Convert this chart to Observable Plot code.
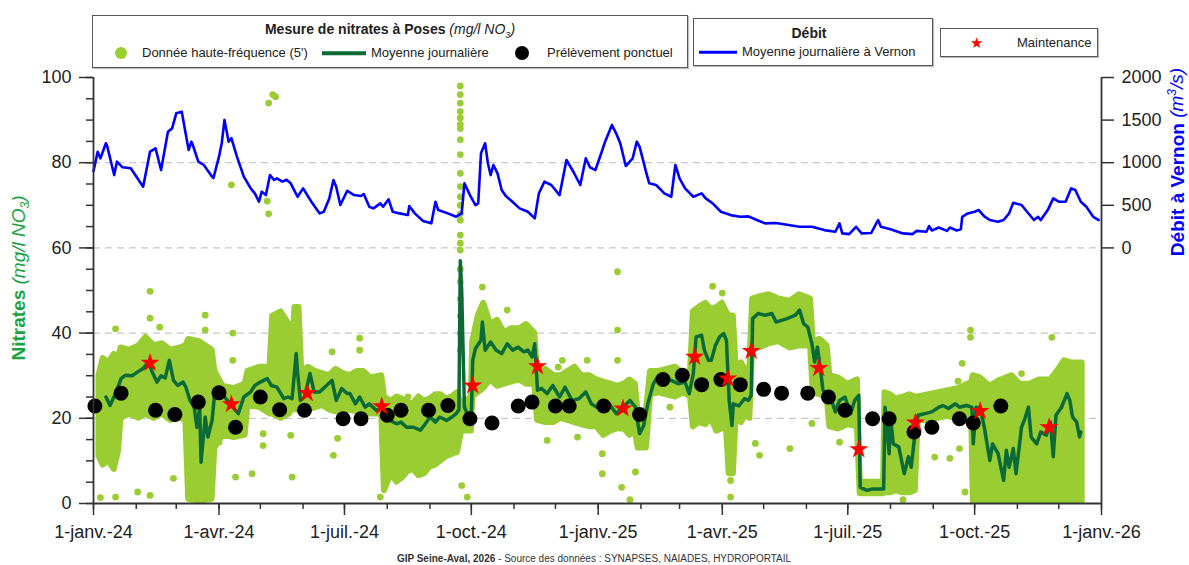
<!DOCTYPE html>
<html lang="fr">
<head>
<meta charset="utf-8">
<script src="https://cdn.jsdelivr.net/npm/d3@7"></script>
<script src="https://cdn.jsdelivr.net/npm/@observablehq/plot@0.6"></script>
<style>
  body { margin: 0; background: #fff; font-family: "Liberation Sans", Arial, sans-serif; color: #222; }
  #wrap { position: relative; width: 1189px; height: 565px; overflow: hidden; }
  #chart { position: absolute; left: 0; top: 0; }
  .box { position: absolute; border: 1px solid #555; background: #fff; box-sizing: border-box; box-shadow: 1px 1px 1px rgba(0,0,0,0.25); }
  .abs { position: absolute; white-space: nowrap; }
  .item { font-size: 13px; line-height: 16px; transform: translateY(-50%); }
  .head { font-size: 14px; line-height: 18px; font-weight: bold; text-align: center; transform: translateY(-50%); }
  .dot { position: absolute; border-radius: 50%; transform: translate(-50%, -50%); }
  .swatch { position: absolute; transform: translateY(-50%); }
  .ytitle { position: absolute; white-space: nowrap; font-size: 19px; transform: translate(-50%, -50%) rotate(-90deg); }
  .footer { position: absolute; left: 594px; top: 558px; transform: translate(-50%, -50%); font-size: 10px; color: #333; white-space: nowrap; }
</style>
</head>
<body>
<div id="wrap">
  <div id="chart"></div>

  <!-- Nitrate legend -->
  <div class="box" style="left:92px; top:15px; width:596px; height:53px;"></div>
  <div class="abs head" style="left:92px; width:596px; top:32px;">Mesure de nitrates à Poses <span style="font-weight:normal; font-style:italic;">(mg/l NO<sub style="font-size:9px;">3</sub>)</span></div>
  <div class="dot" style="left:121px; top:53px; width:12px; height:12px; background:#9acd32;"></div>
  <div class="abs item" style="left:142px; top:53px;">Donnée haute-fréquence (5')</div>
  <div class="swatch" style="left:322px; top:53px; width:44px; height:3.5px; background:#0b6b36;"></div>
  <div class="abs item" style="left:371px; top:53px;">Moyenne journalière</div>
  <div class="dot" style="left:522px; top:53px; width:14px; height:14px; background:#000;"></div>
  <div class="abs item" style="left:547px; top:53px;">Prélèvement ponctuel</div>

  <!-- Flow legend -->
  <div class="box" style="left:693px; top:18px; width:240px; height:48px;"></div>
  <div class="abs head" style="left:693px; width:232px; top:33px;">Débit</div>
  <div class="swatch" style="left:699px; top:52px; width:38px; height:2.5px; background:#0000ff;"></div>
  <div class="abs item" style="left:742px; top:52px;">Moyenne journalière à Vernon</div>

  <!-- Maintenance legend -->
  <div class="box" style="left:940px; top:28px; width:158px; height:29px;"></div>
  <div class="abs item" style="left:970px; top:43px; color:#ff0000; font-size:15px;">★</div>
  <div class="abs item" style="left:1017px; top:43px;">Maintenance</div>

  <!-- Axis titles -->
  <div class="ytitle" style="left:20px; top:278px; color:#19a340;"><b>Nitrates</b> <i>(mg/l NO<sub style="font-size:12px;">3</sub>)</i></div>
  <div class="ytitle" style="left:1177px; top:162px; color:#0000ff;"><b>Débit à Vernon</b> <i>(m<sup style="font-size:12px;">3</sup>/s)</i></div>

  <div class="footer"><b>GIP Seine-Aval, 2026</b> - Source des données : SYNAPSES, NAIADES, HYDROPORTAIL</div>
</div>

<script>
// Daily mean flow of the Seine at Vernon (m3/s)
const flowDates = [
  "2024-01-01","2024-01-04","2024-01-06","2024-01-10","2024-01-11","2024-01-16","2024-01-18","2024-01-22","2024-01-28",
  "2024-02-06","2024-02-11","2024-02-15","2024-02-19","2024-02-24","2024-02-27","2024-03-01","2024-03-05","2024-03-10",
  "2024-03-12","2024-03-13","2024-03-17","2024-03-21","2024-03-27","2024-03-28","2024-04-01","2024-04-03","2024-04-05",
  "2024-04-08","2024-04-10","2024-04-14","2024-04-19","2024-04-24","2024-04-27","2024-04-30","2024-05-02","2024-05-05",
  "2024-05-08","2024-05-11","2024-05-13","2024-05-17","2024-05-20","2024-05-23","2024-05-28","2024-06-01","2024-06-07",
  "2024-06-13","2024-06-16","2024-06-20","2024-06-23","2024-06-25","2024-06-28","2024-07-03","2024-07-08","2024-07-13",
  "2024-07-15","2024-07-19","2024-07-22","2024-07-27","2024-07-29","2024-08-02","2024-08-05","2024-08-10","2024-08-16",
  "2024-08-17","2024-08-21","2024-08-27","2024-09-02","2024-09-05","2024-09-07","2024-09-14","2024-09-20","2024-09-24",
  "2024-09-26","2024-09-30","2024-10-04","2024-10-06","2024-10-08","2024-10-11","2024-10-13","2024-10-15","2024-10-17",
  "2024-10-20","2024-10-23","2024-10-26","2024-10-30","2024-11-05","2024-11-11","2024-11-16","2024-11-19","2024-11-23",
  "2024-11-28","2024-12-04","2024-12-09","2024-12-14","2024-12-19","2024-12-23","2024-12-26","2024-12-30","2025-01-04",
  "2025-01-06","2025-01-11","2025-01-14","2025-01-17","2025-01-21","2025-01-26","2025-01-29","2025-01-31","2025-02-05",
  "2025-02-07","2025-02-12","2025-02-18","2025-02-23","2025-02-26","2025-03-01","2025-03-05","2025-03-11","2025-03-17",
  "2025-03-20","2025-03-25","2025-03-31","2025-04-07","2025-04-14","2025-04-20","2025-04-26","2025-05-02","2025-05-10",
  "2025-05-19","2025-05-27","2025-06-05","2025-06-14","2025-06-22","2025-06-25","2025-06-27","2025-07-02","2025-07-07",
  "2025-07-11","2025-07-18","2025-07-21","2025-07-23","2025-07-25","2025-08-01","2025-08-10","2025-08-17","2025-08-20",
  "2025-08-27","2025-08-29","2025-08-31","2025-09-05","2025-09-11","2025-09-13","2025-09-18","2025-09-21","2025-09-22",
  "2025-09-26","2025-10-01","2025-10-04","2025-10-08","2025-10-12","2025-10-18","2025-10-22","2025-10-26","2025-10-29",
  "2025-11-04","2025-11-08","2025-11-13","2025-11-16","2025-11-18","2025-11-23","2025-11-27","2025-12-01","2025-12-06",
  "2025-12-10","2025-12-13","2025-12-17","2025-12-21","2025-12-26","2025-12-30"
];
const flowValues = [
  900,1129,1051,1228,1190,855,1012,946,934,
  718,1129,1169,914,1364,1403,1580,1599,1149,
  1247,1208,1012,973,836,820,1071,1228,1502,
  1247,1287,1071,836,699,640,542,660,620,
  855,797,817,777,800,758,600,699,542,
  405,424,581,797,718,503,671,620,609,
  632,483,464,523,483,570,424,405,385,
  491,405,315,288,542,444,405,366,405,
  758,620,503,523,1110,1228,993,855,973,
  875,679,609,553,464,424,347,640,777,
  738,620,1032,894,738,1052,946,914,1149,
  1247,1443,1345,1228,961,1052,1247,1188,875,
  758,738,640,600,973,817,699,600,640,
  581,523,424,385,365,370,327,288,292,
  268,248,248,209,189,288,170,162,248,
  170,175,268,327,248,220,170,162,200,
  189,255,205,240,200,240,205,220,365,
  405,424,444,370,327,307,327,405,530,
  503,424,327,365,327,444,581,542,542,
  699,679,542,483,365,327
];

// Daily mean nitrate concentration at Poses (mg/l NO3)
const meanDates = [
  "2024-01-10","2024-01-13","2024-01-17","2024-01-21","2024-01-24","2024-01-29","2024-02-02","2024-02-06","2024-02-10",
  "2024-02-12","2024-02-16","2024-02-19","2024-02-22","2024-02-25","2024-02-28","2024-03-02","2024-03-06","2024-03-08",
  "2024-03-11","2024-03-14","2024-03-16","2024-03-18","2024-03-19","2024-03-22","2024-03-24","2024-03-27","2024-03-29",
  "2024-04-03","2024-04-07","2024-04-11","2024-04-15","2024-04-19","2024-04-24","2024-04-27","2024-05-01","2024-05-06",
  "2024-05-09","2024-05-13","2024-05-18","2024-05-21","2024-05-24","2024-05-25","2024-05-27","2024-05-28","2024-05-30",
  "2024-06-02","2024-06-06","2024-06-09","2024-06-13","2024-06-18","2024-06-22","2024-06-25","2024-06-29","2024-07-03",
  "2024-07-05","2024-07-09","2024-07-12","2024-07-16","2024-07-19","2024-07-24","2024-07-29","2024-08-03","2024-08-08",
  "2024-08-11","2024-08-15","2024-08-20","2024-08-25","2024-08-28","2024-09-01","2024-09-05","2024-09-08","2024-09-13",
  "2024-09-17","2024-09-20","2024-09-22","2024-09-23","2024-09-24","2024-09-26","2024-09-29","2024-10-01","2024-10-02",
  "2024-10-04","2024-10-08","2024-10-09","2024-10-11","2024-10-15","2024-10-19","2024-10-23","2024-10-27","2024-10-31",
  "2024-11-04","2024-11-08","2024-11-11","2024-11-14","2024-11-16","2024-11-18","2024-11-21","2024-11-25","2024-11-29",
  "2024-12-04","2024-12-08","2024-12-13","2024-12-18","2024-12-23","2024-12-27","2024-12-31","2025-01-05","2025-01-09",
  "2025-01-14","2025-01-19","2025-01-24","2025-01-28","2025-01-31","2025-02-03","2025-02-06","2025-02-10","2025-02-13",
  "2025-02-18","2025-02-23","2025-02-28","2025-03-05","2025-03-08","2025-03-11","2025-03-13","2025-03-17","2025-03-19",
  "2025-03-22","2025-03-24","2025-03-27","2025-03-30","2025-04-02","2025-04-04","2025-04-06","2025-04-08","2025-04-09",
  "2025-04-13","2025-04-17","2025-04-20","2025-04-22","2025-04-23","2025-04-27","2025-05-02","2025-05-07","2025-05-10",
  "2025-05-14","2025-05-18","2025-05-21","2025-05-24","2025-05-27","2025-05-30","2025-06-02","2025-06-05","2025-06-07",
  "2025-06-09","2025-06-11","2025-06-13","2025-06-18","2025-06-22","2025-06-25","2025-06-29","2025-07-03","2025-07-06",
  "2025-07-09","2025-07-10","2025-07-15","2025-07-19","2025-07-27","2025-07-28","2025-07-31","2025-08-01","2025-08-03",
  "2025-08-07","2025-08-09","2025-08-11","2025-08-14","2025-08-16","2025-08-19","2025-08-21","2025-08-26","2025-08-31",
  "2025-09-05","2025-09-08","2025-09-12","2025-09-17","2025-09-20","2025-09-25","2025-09-29","2025-09-30","2025-10-02",
  "2025-10-05","2025-10-08","2025-10-12","2025-10-14","2025-10-18","2025-10-22","2025-10-24","2025-10-26","2025-10-29",
  "2025-10-31","2025-11-04","2025-11-06","2025-11-09","2025-11-11","2025-11-15","2025-11-18","2025-11-22","2025-11-25",
  "2025-11-27","2025-11-29","2025-12-03","2025-12-07","2025-12-09","2025-12-11","2025-12-14","2025-12-16","2025-12-17"
];
const meanValues = [
  25.0,23.0,25.8,29.3,30.1,30.0,30.9,31.7,33.2,
  31.3,28.5,30.0,29.5,33.6,28.9,27.7,28.5,27.3,
  24.2,22.6,17.9,22.6,9.7,20.3,15.6,19.6,26.2,
  25.8,24.2,22.6,21.1,25.0,26.2,27.7,28.5,29.3,
  27.7,27.3,24.6,25.0,24.6,28.1,35.2,30.7,24.2,
  25.0,30.5,26.2,26.2,27.7,28.9,24.2,27.0,25.8,
  25.8,23.4,25.0,22.6,23.4,21.9,22.3,19.5,18.7,
  19.1,17.9,17.9,17.2,18.4,20.3,19.1,20.3,19.5,
  20.3,21.1,22.0,57.0,50.0,22.6,20.3,20.3,33.6,
  36.4,38.3,42.6,36.0,37.9,36.0,35.2,37.5,36.0,
  36.7,35.6,36.0,34.4,37.5,26.6,27.0,25.8,27.7,
  25.0,27.3,24.2,24.6,26.2,23.4,22.6,22.9,23.4,
  21.1,22.6,24.2,22.6,16.4,18.3,23.4,28.1,29.7,
  29.3,28.9,28.1,28.5,25.8,30.5,39.1,39.5,36.0,
  33.6,33.6,37.1,39.1,39.9,38.3,24.2,18.3,23.4,
  22.9,24.6,24.2,25.5,43.4,44.6,44.2,44.6,42.6,
  43.0,43.4,43.8,44.2,45.4,42.2,41.4,37.5,33.2,
  36.7,32.0,26.6,25.4,21.5,24.2,25.0,21.1,24.2,
  25.4,3.8,3.1,3.4,3.4,22.6,11.7,20.3,14.0,
  13.3,10.1,7.0,11.0,8.5,17.2,20.7,21.1,21.5,
  22.6,23.0,22.3,23.4,22.6,23.0,22.6,14.0,22.6,
  22.3,17.9,10.1,14.0,11.7,5.4,12.5,8.5,12.9,
  7.0,17.9,19.5,22.6,15.6,14.0,16.8,16.0,19.1,
  11.0,20.7,22.6,25.8,24.2,20.3,19.1,15.6,16.8
];

// Envelope of the 5-minute measurements (daily low / high)
const hfDates = [
  "2024-01-05","2024-01-08","2024-01-12","2024-01-16","2024-01-19","2024-01-21","2024-01-27","2024-02-03","2024-02-08",
  "2024-02-14","2024-02-20","2024-02-26","2024-03-04","2024-03-08","2024-03-10","2024-03-18","2024-03-27","2024-03-29",
  "2024-04-04","2024-04-12","2024-04-20","2024-04-22","2024-05-01","2024-05-08","2024-05-10","2024-05-16","2024-05-22",
  "2024-05-24","2024-05-26","2024-05-29","2024-05-31","2024-06-05","2024-06-10","2024-06-15","2024-06-20","2024-06-25",
  "2024-06-30","2024-07-05","2024-07-10","2024-07-15","2024-07-20","2024-07-28","2024-07-30","2024-08-04","2024-08-08",
  "2024-08-12","2024-08-16","2024-08-20","2024-08-24","2024-08-28","2024-09-01","2024-09-05","2024-09-09","2024-09-13",
  "2024-09-17","2024-09-21","2024-09-24","2024-10-01","2024-10-02","2024-10-06","2024-10-10","2024-10-15","2024-10-20",
  "2024-10-25","2024-10-30","2024-11-05","2024-11-10","2024-11-16","2024-11-18","2024-11-24","2024-11-30","2024-12-05",
  "2024-12-10","2024-12-15","2024-12-20","2024-12-26","2024-12-31","2025-01-05","2025-01-10","2025-01-15","2025-01-20",
  "2025-01-24","2025-01-28","2025-01-30","2025-02-05","2025-02-08","2025-02-14","2025-02-20","2025-02-26","2025-03-04",
  "2025-03-09","2025-03-11","2025-03-15","2025-03-20","2025-03-24","2025-03-28","2025-04-01","2025-04-04","2025-04-06",
  "2025-04-09","2025-04-11","2025-04-15","2025-04-18","2025-04-21","2025-04-23","2025-04-28","2025-05-05","2025-05-12",
  "2025-05-20","2025-05-27","2025-06-04","2025-06-06","2025-06-11","2025-06-16","2025-06-18","2025-06-24","2025-07-01",
  "2025-07-08","2025-07-10","2025-07-27","2025-07-28","2025-08-01","2025-08-05","2025-08-10","2025-08-15","2025-08-19",
  "2025-08-21","2025-08-28","2025-09-05","2025-09-12","2025-09-20","2025-09-29","2025-09-30","2025-10-05","2025-10-12",
  "2025-10-20","2025-10-28","2025-11-03","2025-11-10","2025-11-17","2025-11-25","2025-11-30","2025-12-05","2025-12-10",
  "2025-12-18"
];
const hfLow = [
  11,9,10,8,12,20,21,20,21,
  20,21,19.5,20,19.5,1,0.5,1,13,
  16,15.5,16,23,22.5,21,21,20,21,
  22,22,22,23,22,22.5,23,22,21.5,
  21.5,22,21.5,21,21,21,3,7,5,
  6,7.5,8,6.5,7,8.5,9,10,11,
  11.5,12,17,17,25,26,27,29,27.5,
  28,28.5,29,28,28,19.5,19,19,20,
  19.5,19,18.5,18,18,16,17,17.5,17.5,
  16,17,13,13,25.5,26,25.5,25,26,
  25,18,19,18.5,20,17,17.5,18,7,
  7,20,19,21,20,37,36.5,37.5,38,
  36.5,37,37,26,25.5,25,18,17.5,18.5,
  18,2.3,2.3,2.5,2.5,3,2.5,2.5,3,
  19.5,19.5,20,20.5,19.5,19,0.5,0.5,0.5,
  0.5,0.5,0.5,0.5,0.5,0.5,0.5,0.5,0.5,
  0.5
];
const hfHigh = [
  30,34,33,35,34,36.5,36,37,39,
  37,37.5,36,36.5,37,38.5,38,36,31,
  27.5,27,28,31,32,32,44,45,42,
  31,46,46,31,32,31,30.5,30,31.5,
  30.5,30,31,31,29.5,30,25,24,25,
  24.5,23.5,23.5,25,24,24.5,25.5,25.5,24.5,
  25,26,23,25,38,44,47,42,43,
  40,41,41,42,40,31,31.5,30,30,
  31,32,30,30,29,28.5,28,27.5,28,
  29,28,21,22,31,31,31.5,32,30.5,
  31,45,46,47,45.5,46,47,45,44,
  44,32,33,31,32,48,48.5,49,48,
  47.5,49,48,38,38.5,37,30,29.5,28,
  29,5,5,26,25.5,24.5,25,25.5,25,
  25,25.5,26,26.5,27,28.5,30,29.5,27.5,
  29,30,28,28,29,29,31,33.5,33,
  33
];

// Isolated 5-minute measurements outside the envelope
const outlierDates = [
  "2024-01-06","2024-01-17","2024-01-17","2024-02-02","2024-02-11","2024-02-11","2024-02-11","2024-02-18","2024-02-28",
  "2024-03-22","2024-03-22","2024-04-01","2024-04-10","2024-04-11","2024-04-11","2024-04-13","2024-04-25","2024-05-03",
  "2024-05-03","2024-05-06","2024-05-07","2024-05-07","2024-05-10","2024-05-12","2024-05-23","2024-05-24","2024-06-22",
  "2024-06-23","2024-06-26","2024-07-12","2024-07-12","2024-07-27","2024-08-16",
  "2024-09-23","2024-09-23","2024-09-23","2024-09-23","2024-09-23","2024-09-23","2024-09-23","2024-09-23","2024-09-23",
  "2024-09-23","2024-09-23","2024-09-23","2024-09-23","2024-09-23","2024-09-23","2024-09-23","2024-09-23","2024-09-23",
  "2024-09-23","2024-09-23","2024-09-23","2024-09-23","2024-09-23","2024-09-23","2024-09-24","2024-09-28",
  "2024-10-09","2024-10-27","2024-11-25","2024-12-03","2024-12-06","2024-12-17","2024-12-24",
  "2025-01-04","2025-01-04","2025-01-15","2025-01-15","2025-01-15","2025-01-18","2025-01-24","2025-01-28","2025-02-22",
  "2025-03-25","2025-04-01","2025-04-07","2025-04-07","2025-04-25","2025-04-28","2025-05-20","2025-06-05","2025-06-25",
  "2025-08-10","2025-09-02","2025-09-13","2025-09-19","2025-09-20","2025-09-22","2025-09-24","2025-09-28","2025-09-28",
  "2025-11-04","2025-11-26"
];
const outlierValues = [
  1.4,41.0,1.5,2.7,49.8,43.5,1.9,41.4,5.9,
  44.2,40.7,14.4,74.8,40.0,33.6,6.2,7.0,16.4,
  13.6,71.0,68.0,94.0,96.0,95.5,16.0,6.2,35.6,
  11.3,15.3,38.8,36.0,1.5,25.0,
  98.0,96.0,94.0,92.0,90.5,89.0,88.0,85.4,81.9,
  77.5,74.4,72.0,70.0,68.0,66.5,63.0,61.1,59.5,
  55.0,52.0,48.0,44.0,40.0,36.0,4.2,1.5,
  50.8,45.4,14.8,32.0,33.6,15.6,33.6,
  11.7,7.0,54.4,40.7,33.6,3.8,0.9,7.4,22.6,
  51.0,49.4,1.5,5.4,14.1,11.3,12.9,18.8,14.4,
  0.9,10.9,10.6,28.7,12.9,32.9,2.7,40.7,39.0,
  30.5,39.0
];

// Grab samples (mg/l NO3)
const sampleDates = [
  "2024-01-02","2024-01-21","2024-02-15","2024-02-29","2024-03-17","2024-04-01","2024-04-13","2024-05-01","2024-05-15",
  "2024-06-02","2024-06-30","2024-07-13","2024-08-01","2024-08-11","2024-08-31","2024-09-14","2024-09-30","2024-10-16",
  "2024-11-04","2024-11-14","2024-12-01","2024-12-11","2025-01-05","2025-01-31","2025-02-17","2025-03-03","2025-03-17",
  "2025-03-31","2025-04-14","2025-05-01","2025-05-14","2025-06-02","2025-06-17","2025-06-29","2025-07-19","2025-07-31",
  "2025-08-18","2025-08-31","2025-09-20","2025-09-30","2025-10-20"
];
const sampleValues = [
  22.9,25.9,21.9,20.9,23.8,26.0,17.9,25.0,22.0,
  21.9,19.9,19.9,20.7,21.9,21.9,23.0,19.9,18.9,
  22.9,23.8,22.9,22.9,22.9,20.9,29.1,30.1,27.9,
  29.1,27.9,26.8,25.9,25.9,25.0,21.9,19.9,19.9,
  16.8,17.9,19.9,18.9,22.9
];

// Sensor maintenance visits
const maintenanceDates = [
  "2024-02-11","2024-04-10","2024-06-04","2024-07-28","2024-10-02","2024-11-18","2025-01-19","2025-03-12","2025-04-05",
  "2025-04-22","2025-06-10","2025-07-09","2025-08-19","2025-10-05","2025-11-24"
];
const maintenanceValues = [33.0,23.3,25.9,22.8,27.7,32.2,22.3,34.4,29.3,35.8,31.8,12.7,19.0,21.7,17.9];

// French month abbreviations for the quarter labels
const monthLabels = ["janv.","févr.","mars","avr.","mai","juin","juil.","août","sept.","oct.","nov.","déc."];

const parse = d3.utcParse("%Y-%m-%d");
const flow = flowDates.map((d, i) => ({date: parse(d), q: flowValues[i]}));
const mean = meanDates.map((d, i) => ({date: parse(d), v: meanValues[i]}));
const hf = hfDates.map((d, i) => ({date: parse(d), low: hfLow[i], high: hfHigh[i]}));
const outliers = outlierDates.map((d, i) => ({date: parse(d), v: outlierValues[i]}));
const samples = sampleDates.map((d, i) => ({date: parse(d), v: sampleValues[i]}));
const maintenance = maintenanceDates.map((d, i) => ({date: parse(d), v: maintenanceValues[i]}));

// Flow shares the frame: 0 m3/s sits on 60 mg/l, 2000 m3/s on 100 mg/l
const flowToY = q => 60 + q / 50;

const start = new Date(Date.UTC(2024, 0, 1));
const end = new Date(Date.UTC(2026, 0, 1));
const months = d3.utcMonths(start, d3.utcDay.offset(end, 1));
const quarters = d3.utcMonths(start, d3.utcDay.offset(end, 1), 3);

const LIGHT = "#9acd32";
const DARK = "#0b6b36";
const AXIS = "#333";

const chart = Plot.plot({
  width: 1189,
  height: 565,
  marginTop: 77,
  marginBottom: 62,
  marginLeft: 93,
  marginRight: 88,
  style: {fontFamily: "'Liberation Sans', Arial, sans-serif", fontSize: "18px", color: "#222", background: "transparent"},
  x: {type: "utc", domain: [start, end]},
  y: {domain: [0, 100]},
  marks: [
    Plot.ruleY([20, 40, 60, 80], {stroke: "#c8c8c8", strokeWidth: 1.3, strokeDasharray: "7,5"}),
    Plot.areaY(hf, {x: "date", y1: "low", y2: "high", fill: LIGHT, stroke: LIGHT, strokeWidth: 6, strokeLinejoin: "round"}),
    Plot.dot(outliers, {x: "date", y: "v", r: 3.4, fill: LIGHT}),
    Plot.lineY(mean, {x: "date", y: "v", stroke: DARK, strokeWidth: 3.5, strokeLinejoin: "round"}),
    Plot.lineY(flow, {x: "date", y: d => flowToY(d.q), stroke: "#0000ff", strokeWidth: 2.6, strokeLinejoin: "round"}),
    Plot.dot(samples, {x: "date", y: "v", r: 7.5, fill: "#000"}),
    Plot.dot(maintenance, {x: "date", y: "v", symbol: "star", r: 6, fill: "#ff0000"}),
    // axes
    Plot.axisX({ticks: months, tickSize: 6, tickFormat: () => "", label: null, stroke: AXIS, strokeWidth: 1.5}),
    Plot.axisX({ticks: quarters, tickSize: 12, tickPadding: 10, label: null, stroke: AXIS, strokeWidth: 1.5,
      tickFormat: d => `1-${monthLabels[d.getUTCMonth()]}-${String(d.getUTCFullYear()).slice(2)}`}),
    Plot.axisY({ticks: d3.range(0, 101, 5), tickSize: 7, tickFormat: () => "", label: null, stroke: AXIS, strokeWidth: 1.5}),
    Plot.axisY({ticks: d3.range(0, 101, 20), tickSize: 14, tickPadding: 8, label: null, stroke: AXIS, strokeWidth: 1.5}),
    Plot.axisY({anchor: "right", ticks: [60, 70, 80, 90, 100], tickSize: 12, tickPadding: 8, label: null,
      stroke: AXIS, strokeWidth: 1.5, tickFormat: d => String((d - 60) * 50)}),
    Plot.ruleY([0], {stroke: AXIS, strokeWidth: 1.8}),
    Plot.ruleX([start], {stroke: AXIS, strokeWidth: 1.8}),
    Plot.ruleX([end], {stroke: AXIS, strokeWidth: 1.8})
  ]
});
document.getElementById("chart").appendChild(chart);
</script>
</body>
</html>
